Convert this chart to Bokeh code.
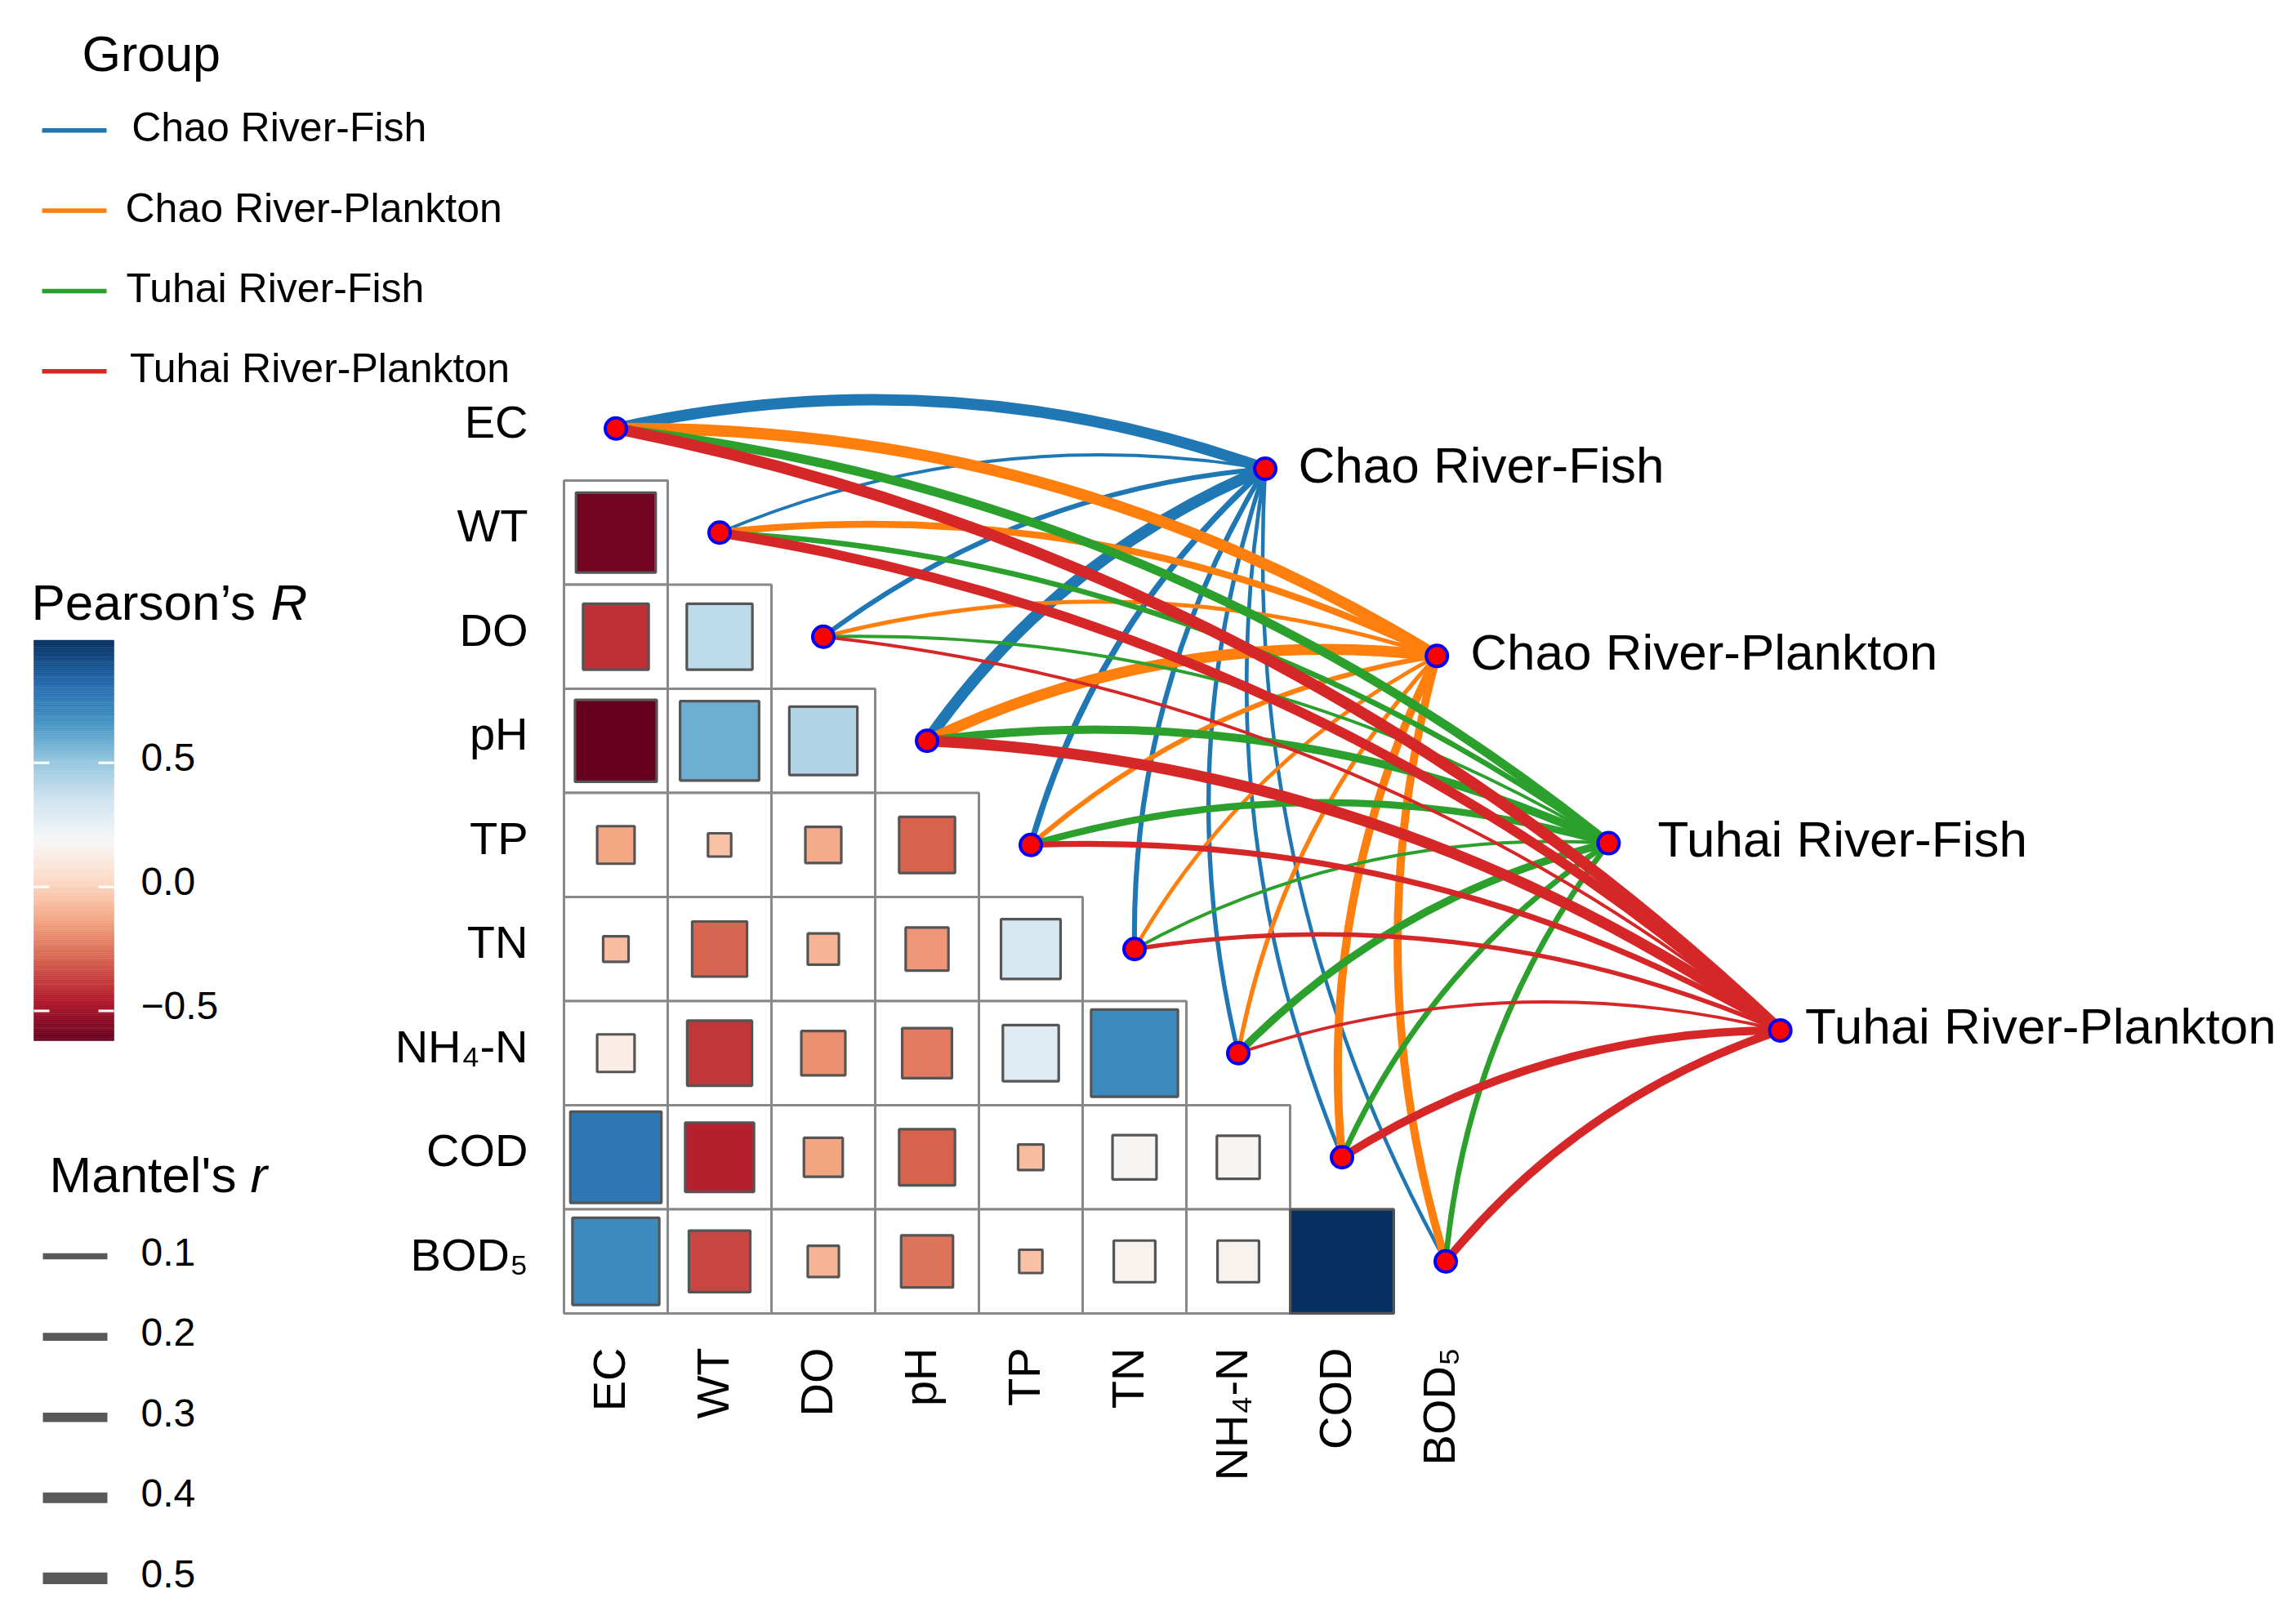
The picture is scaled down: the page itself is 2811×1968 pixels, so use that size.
import numpy as np
from bokeh.plotting import figure
from bokeh.models import Range1d, ColumnDataSource, LinearColorMapper
from bokeh.core.properties import value
from bokeh.embed import file_html
from bokeh.resources import INLINE

# ------------------------------------------------------------------ data
env_vars = ["EC", "WT", "DO", "pH", "TP", "TN", "NH\u2084-N", "COD", "BOD\u2085"]

# Pearson's R, lower triangle: row variable vs. the variables before it
pearson_WT = [-0.59]
pearson_DO = [-0.40, 0.40]
pearson_pH = [-0.62, 0.58, 0.43]
pearson_TP = [-0.13, -0.05, -0.12, -0.29]
pearson_TN = [-0.06, -0.28, -0.09, -0.17, 0.33]
pearson_NH4N = [0.13, -0.39, -0.18, -0.23, 0.29, 0.70]
pearson_COD = [0.77, -0.44, -0.14, -0.29, -0.06, 0.18, 0.17]
pearson_BOD5 = [0.70, -0.35, -0.09, -0.25, -0.05, 0.16, 0.16, 0.995]
pearson_rows = [pearson_WT, pearson_DO, pearson_pH, pearson_TP, pearson_TN,
                pearson_NH4N, pearson_COD, pearson_BOD5]

groups = ["Chao River-Fish", "Chao River-Plankton", "Tuhai River-Fish", "Tuhai River-Plankton"]
# Mantel's r of each group with EC, WT, DO, pH, TP, TN, NH4-N, COD, BOD5
mantel_chao_fish = [0.47, 0.011, 0.050, 0.49, 0.094, 0.053, 0.035, 0.022, 0.018]
mantel_chao_plankton = [0.48, 0.129, 0.027, 0.44, 0.053, 0.022, 0.035, 0.216, 0.205]
mantel_tuhai_fish = [0.268, 0.070, 0.011, 0.216, 0.137, 0.012, 0.182, 0.072, 0.072]
mantel_tuhai_plankton = [0.48, 0.332, 0.011, 0.44, 0.087, 0.035, 0.009, 0.216, 0.216]
mantel_by_group = [mantel_chao_fish, mantel_chao_plankton, mantel_tuhai_fish, mantel_tuhai_plankton]

mantel_breaks = [0.1, 0.2, 0.3, 0.4, 0.5]
mantel_break_labels = ["0.1", "0.2", "0.3", "0.4", "0.5"]
pearson_ticks = [-0.5, 0.0, 0.5]
pearson_tick_labels = ["\u22120.5", "0.0", "0.5"]

# ------------------------------------------------------------------ styles / layout
group_colors = ["#1F77B4", "#FF7F0E", "#2CA02C", "#D62728"]
rdbu = ["#67001F", "#B2182B", "#D6604D", "#F4A582", "#FDDBC7", "#F7F7F7",
        "#D1E5F0", "#92C5DE", "#4393C3", "#2166AC", "#053061"]
FONT = value("Liberation Sans")

FIG_W, FIG_H, PAD = 2811, 1968, 0
X0, Y0 = 753.5, 524.25          # pixel of the first diagonal cell centre
SX, SY = 127.0, 127.5           # pixels per cell
N = len(env_vars)
CURV = 0.072                    # sagitta / chord of the links


def dx(px):
    return (px - X0) / SX


def dy(py):
    return (N - 1) - (py - Y0) / SY


def lw(r):
    return 2.2 + 17.0 * np.sqrt(r)


def interp_palette(cols, n=256):
    rgb = np.array([[int(c[i:i + 2], 16) for i in (1, 3, 5)] for c in cols], float)
    t = np.linspace(0, 1, len(cols))
    tt = np.linspace(0, 1, n)
    out = np.stack([np.interp(tt, t, rgb[:, k]) for k in range(3)], axis=1)
    return ["#%02x%02x%02x" % tuple(int(round(v)) for v in row) for row in out]


p = figure(width=FIG_W, height=FIG_H, output_backend="svg", toolbar_location=None,
           x_range=Range1d(dx(PAD), dx(PAD + FIG_W)),
           y_range=Range1d(dy(PAD + FIG_H), dy(PAD)),
           x_axis_location=None, y_axis_location=None, min_border=0,
           outline_line_color=None, background_fill_color="white")
p.xgrid.visible = False
p.ygrid.visible = False

# ------------------------------------------------------------------ correlation matrix
all_r = [v for row in pearson_rows for v in row]
lo, hi = min(all_r), max(all_r)
mapper = LinearColorMapper(palette=interp_palette(rdbu), low=lo, high=hi)

cx, cy, rv, side = [], [], [], []
for i, row in enumerate(pearson_rows, start=1):
    for j, r in enumerate(row):
        cx.append(j)
        cy.append((N - 1) - i)
        rv.append(r)
        side.append(np.sqrt(abs(r)))
cells = ColumnDataSource(dict(x=cx, y=cy, r=rv, s=side))
p.rect("x", "y", width=1, height=1, source=cells, fill_color="white",
       line_color="#888888", line_width=3)
p.rect("x", "y", width="s", height="s", source=cells,
       fill_color={"field": "r", "transform": mapper},
       line_color="#555555", line_width=3.2)

# ------------------------------------------------------------------ links
env_x = [float(k) for k in range(N)]
env_y = [float((N - 1) - k) for k in range(N)]
sp_px = [1548.5 + 210.2 * g for g in range(len(groups))]
sp_py = [573.5 + 229.3 * g for g in range(len(groups))]
sp_x = [dx(v) for v in sp_px]
sp_y = [dy(v) for v in sp_py]

L = dict(x0=[], y0=[], x1=[], y1=[], cx=[], cy=[], w=[], c=[])
for g, vals in enumerate(mantel_by_group):
    for k, r in enumerate(vals):
        ax, ay = env_x[k] * SX, env_y[k] * SY
        bx, by = sp_x[g] * SX, sp_y[g] * SY
        ddx, ddy = bx - ax, by - ay
        ln = np.hypot(ddx, ddy)
        nx, ny = -ddy / ln, ddx / ln
        mx, my = (ax + bx) / 2 + nx * 2 * CURV * ln, (ay + by) / 2 + ny * 2 * CURV * ln
        L["x0"].append(env_x[k]); L["y0"].append(env_y[k])
        L["x1"].append(sp_x[g]); L["y1"].append(sp_y[g])
        L["cx"].append(mx / SX); L["cy"].append(my / SY)
        L["w"].append(lw(r)); L["c"].append(group_colors[g])
p.quadratic(x0="x0", y0="y0", x1="x1", y1="y1", cx="cx", cy="cy",
            line_width="w", line_color="c", source=ColumnDataSource(L))

# nodes
p.scatter(env_x + sp_x, env_y + sp_y, size=26, fill_color="#FF0000",
          line_color="#0000FF", line_width=4)

# ------------------------------------------------------------------ labels of matrix
p.text(x=[dx(646)] * N, y=[v + 8.5 / SY for v in env_y], text=env_vars,
       text_align="right", text_baseline="middle", text_font=FONT,
       text_font_size="56px", text_color="black")
p.text(x=[v - 9 / SX for v in env_x], y=[dy(1650)] * N, text=env_vars,
       angle=np.pi / 2, text_align="right", text_baseline="middle", text_font=FONT,
       text_font_size="56px", text_color="black")
label_gap = [40.5, 41, 60, 30.5]
p.text(x=[dx(sp_px[g] + label_gap[g]) for g in range(len(groups))],
       y=[v + 5 / SY for v in sp_y], text=groups, text_align="left",
       text_baseline="middle", text_font=FONT, text_font_size="62px", text_color="black")

# ------------------------------------------------------------------ legend: Group
p.text(x=[dx(100)], y=[dy(65)], text=["Group"], text_baseline="alphabetic",
       text_font=FONT, text_font_size="61px", text_color="black")
gy = [159.3 + 98.3 * g for g in range(len(groups))]
p.segment(x0=[dx(51)] * 4, x1=[dx(130)] * 4, y0=[dy(v) for v in gy], y1=[dy(v) for v in gy],
          line_color=group_colors, line_width=5.5)
glx = [160.7, 153, 154, 158.5]
p.text(x=[dx(v) for v in glx], y=[dy(v - 3.5) for v in gy], text=groups,
       text_baseline="middle", text_font=FONT, text_font_size="50px", text_color="black")

# ------------------------------------------------------------------ legend: Pearson's R
p.text(x=[dx(38)], y=[dy(737)], text=["Pearson\u2019s "], text_baseline="alphabetic",
       text_font=FONT, text_font_size="62px", text_color="black")
p.text(x=[dx(331)], y=[dy(737)], text=["R"], text_baseline="alphabetic",
       text_font=FONT, text_font_style="italic", text_font_size="62px", text_color="black")
bar_top, bar_bot, bar_l, bar_r = 783.5, 1274.0, 41.0, 139.0
nseg = 300
vals = np.linspace(lo, hi, nseg + 1)
mids = (vals[:-1] + vals[1:]) / 2
ys = np.linspace(dy(bar_bot), dy(bar_top), nseg + 1)
bar_src = ColumnDataSource(dict(v=mids, b=ys[:-1], t=ys[1:],
                                l=[dx(bar_l)] * nseg, r=[dx(bar_r)] * nseg))
p.quad(left="l", right="r", bottom="b", top="t", source=bar_src,
       fill_color={"field": "v", "transform": mapper},
       line_color={"field": "v", "transform": mapper}, line_width=0.5)
tick_y = [dy(bar_bot) + (t - lo) / (hi - lo) * (dy(bar_top) - dy(bar_bot)) for t in pearson_ticks]
p.segment(x0=[dx(bar_l)] * 3, x1=[dx(bar_l + 19)] * 3, y0=tick_y, y1=tick_y,
          line_color="white", line_width=3)
p.segment(x0=[dx(bar_r - 19)] * 3, x1=[dx(bar_r)] * 3, y0=tick_y, y1=tick_y,
          line_color="white", line_width=3)
p.text(x=[dx(172)] * 3, y=[v + 7 / SY for v in tick_y], text=pearson_tick_labels,
       text_baseline="middle", text_font=FONT, text_font_size="48px", text_color="black")

# ------------------------------------------------------------------ legend: Mantel's r
p.text(x=[dx(60)], y=[dy(1438)], text=["Mantel's "], text_baseline="alphabetic",
       text_font=FONT, text_font_size="62px", text_color="black")
p.text(x=[dx(306)], y=[dy(1438)], text=["r"], text_baseline="alphabetic",
       text_font=FONT, text_font_style="italic", text_font_size="62px", text_color="black")
my_ = [1538 + 98.6 * k for k in range(len(mantel_breaks))]
p.segment(x0=[dx(52)] * 5, x1=[dx(131)] * 5, y0=[dy(v) for v in my_], y1=[dy(v) for v in my_],
          line_color="#595959", line_width=[lw(b) for b in mantel_breaks])
p.text(x=[dx(172)] * 5, y=[dy(v - 5.5) for v in my_], text=mantel_break_labels,
       text_baseline="middle", text_font=FONT, text_font_size="48px", text_color="black")

open("out.html", "w").write(file_html(p, INLINE))
